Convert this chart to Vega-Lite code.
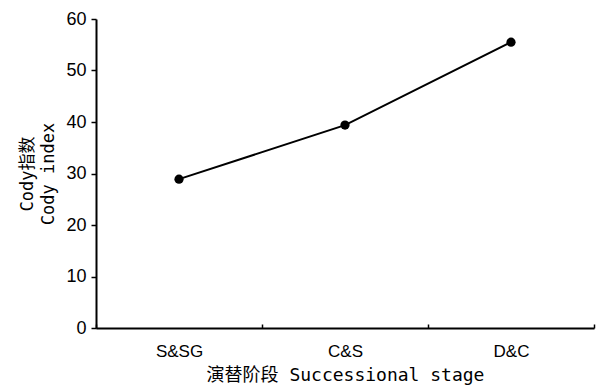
{
  "$schema": "https://vega.github.io/schema/vega-lite/v6.json",
  "autosize": "none",
  "width": 498,
  "height": 309,
  "padding": {"left": 96, "top": 19, "right": 6, "bottom": 60},
  "background": "white",
  "config": {"view": {"stroke": null}},
  "data": {"values": [
    {"stage": "S&SG", "cody": 28.9},
    {"stage": "C&S", "cody": 39.4},
    {"stage": "D&C", "cody": 55.5}
  ]},
  "encoding": {
    "x": {"field": "stage", "type": "nominal", "sort": null,
      "scale": {"type": "band", "paddingInner": 0, "paddingOuter": 0},
      "axis": {"title": "演替阶段 Successional stage", "labelAngle": 0,
        "domainColor": "black", "domainWidth": 2, "tickColor": "black", "tickWidth": 1.5,
        "tickBand": "extent", "tickSize": -4,
        "labelFont": "Liberation Sans", "labelFontSize": 17, "labelColor": "black", "labelPadding": 19,
        "titleFont": "DejaVu Sans Mono, Noto Sans CJK SC", "titleFontSize": 18, "titleFontWeight": "normal", "titleColor": "black", "titlePadding": 7}},
    "y": {"field": "cody", "type": "quantitative",
      "scale": {"domain": [0, 60], "nice": false},
      "axis": {"title": ["Cody指数", "Cody index"], "values": [0, 10, 20, 30, 40, 50, 60], "grid": false,
        "domainColor": "black", "domainWidth": 2, "tickColor": "black", "tickWidth": 1.5, "tickSize": 5,
        "labelFont": "Liberation Sans", "labelFontSize": 18, "labelColor": "black", "labelPadding": 5,
        "titleFont": "DejaVu Sans Mono, Noto Sans CJK SC", "titleFontSize": 17, "titleFontWeight": "normal", "titleColor": "black", "titlePadding": 8, "titleLineHeight": 21}}
  },
  "layer": [
    {"mark": {"type": "line", "color": "black", "strokeWidth": 2}},
    {"mark": {"type": "point", "filled": true, "color": "black", "opacity": 1, "size": 85}}
  ]
}
